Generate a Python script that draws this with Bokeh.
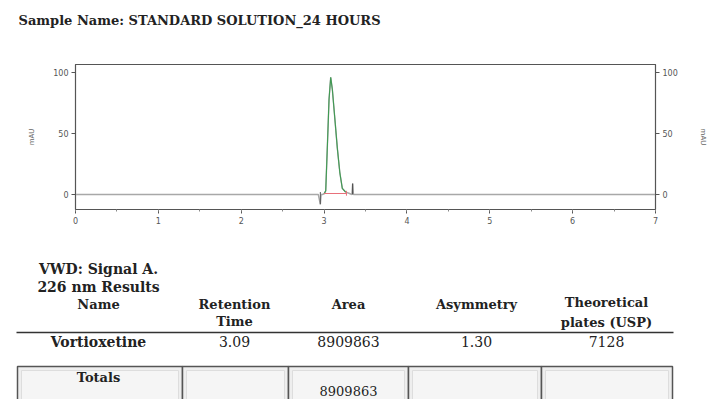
from bokeh.plotting import figure
from bokeh.layouts import column
from bokeh.models import Range1d, LinearAxis, FixedTicker
from bokeh.core.properties import value
from bokeh.embed import file_html
from bokeh.resources import INLINE

# ---------------- data ----------------
title_text = "Sample Name: STANDARD SOLUTION_24 HOURS"

trace_time = [0.0, 2.93, 2.955, 2.965, 2.98, 3.0, 3.02, 3.04, 3.06, 3.08, 3.10, 3.13, 3.16, 3.19,
              3.22, 3.26, 3.30, 3.335, 3.345, 3.355, 3.40, 7.0]
trace_mau = [0.0, 0.0, -8.0, 0.0, 0.0, 0.5, 3.0, 40.0, 78.0, 96.0, 86.0, 62.0, 38.0, 18.0,
             5.0, 2.0, 1.0, 0.0, 9.0, 0.0, 0.0, 0.0]
peak_start = 3.0
peak_end = 3.26
baseline_time = [3.0, 3.27]
baseline_mau = [0.8, 0.8]
x_ticks = [0, 1, 2, 3, 4, 5, 6, 7]
y_ticks = [0, 50, 100]

table_group = ["VWD: Signal A.", "226 nm Results"]
col_headers = [["Name"], ["Retention", "Time"], ["Area"], ["Asymmetry"], ["Theoretical", "plates (USP)"]]
row_values = ["Vortioxetine", "3.09", "8909863", "1.30", "7128"]
totals_values = ["Totals", "", "8909863", "", ""]

W = 709
SERIF = "DejaVu Serif"

# ---------------- header ----------------
head = figure(width=W, height=50, x_range=Range1d(0, W), y_range=Range1d(50, 0),
              x_axis_type=None, y_axis_type=None,
              output_backend="svg", toolbar_location=None, min_border=0)
head.frame_align = False
head.grid.visible = False
head.outline_line_color = None
head.text(x=[18], y=[20], text=[title_text], text_font=value(SERIF), text_font_style="bold",
          text_font_size="13px", text_color="#222222", text_baseline="middle", text_align="left")

# ---------------- chromatogram ----------------
p = figure(width=W, height=180, x_range=Range1d(0, 7), y_range=Range1d(-12.3, 106.5),
           output_backend="svg", toolbar_location=None,
           min_border_left=75, min_border_right=51, min_border_top=14, min_border_bottom=21,
           x_axis_location="below", y_axis_location="left")
p.frame_align = False
p.grid.visible = False
p.outline_line_color = "#555555"
p.outline_line_width = 1.2

p.line(trace_time, trace_mau, line_color="#a8a8a8", line_width=1.4)
pk_t = [t for t in trace_time if peak_start <= t <= peak_end]
pk_v = [v for t, v in zip(trace_time, trace_mau) if peak_start <= t <= peak_end]
p.line(pk_t, pk_v, line_color="#3f9a52", line_width=1.1)
p.line(baseline_time, baseline_mau, line_color="#e8707a", line_width=1.2)
p.segment(x0=[baseline_time[1]], y0=[-1], x1=[baseline_time[1]], y1=[3], line_color="#e8707a", line_width=1)
p.segment(x0=[trace_time[2]], y0=[-8], x1=[trace_time[2]], y1=[2], line_color="#555555", line_width=1)
p.segment(x0=[trace_time[18]], y0=[0], x1=[trace_time[18]], y1=[9], line_color="#444444", line_width=1)

p.xaxis.ticker = FixedTicker(ticks=x_ticks, minor_ticks=[i * 0.5 for i in range(15)])
p.yaxis.ticker = FixedTicker(ticks=y_ticks)
p.yaxis.axis_label = "mAU"

ra = LinearAxis(ticker=FixedTicker(ticks=y_ticks), axis_label="mAU")
p.add_layout(ra, "right")

for ax in [p.xaxis[0], p.yaxis[0], ra]:
    ax.axis_line_color = "#555555"
    ax.major_tick_line_color = "#555555"
    ax.minor_tick_line_color = "#888888"
    ax.major_tick_out = 4
    ax.major_tick_in = 0
    ax.minor_tick_out = 2
    ax.minor_tick_in = 0
    ax.major_label_text_font = "DejaVu Sans"
    ax.major_label_text_font_size = "8px"
    ax.major_label_text_color = "#555555"
    ax.major_label_standoff = 3
    ax.axis_label_text_font = "DejaVu Sans"
    ax.axis_label_text_font_size = "7px"
    ax.axis_label_text_font_style = "normal"
    ax.axis_label_text_color = "#666666"
p.yaxis[0].axis_label_standoff = 14
ra.axis_label_standoff = 18
ra.minor_tick_line_color = None
p.yaxis[0].minor_tick_line_color = None

# ---------------- table ----------------
t = figure(width=W, height=169, x_range=Range1d(0, W), y_range=Range1d(399, 230),
           x_axis_type=None, y_axis_type=None,
           output_backend="svg", toolbar_location=None, min_border=0)
t.frame_align = False
t.grid.visible = False
t.outline_line_color = None

col_edges = [17, 182, 288, 408, 541, 672]
col_centers = [98, 234, 348, 476, 606]

# totals box
t.quad(left=col_edges[:-1], right=col_edges[1:], top=[366] * 5, bottom=[402] * 5,
       fill_color="#eeeeee", line_color="#555555", line_width=1.5)
t.quad(left=[e + 4 for e in col_edges[:-1]], right=[e - 4 for e in col_edges[1:]],
       top=[370] * 5, bottom=[402] * 5, fill_color="#f5f5f5", line_color="#dddddd", line_width=1)
# header rule
t.segment(x0=[16], y0=[332], x1=[673], y1=[332], line_color="#333333", line_width=1.5)

txt = dict(text_font=value(SERIF), text_color="#222222", text_baseline="middle", text_align="center")
t.text(x=[col_centers[0]] * 2, y=[268, 286], text=table_group, text_font_style="bold",
       text_font_size="14px", **txt)
for c, hdr in zip(col_centers, col_headers):
    ys = [304, 321] if len(hdr) == 2 else [304]
    if hdr[0] == "Theoretical":
        ys = [302, 322]
    t.text(x=[c] * len(hdr), y=ys, text=hdr, text_font_style="bold", text_font_size="13px", **txt)

t.text(x=[col_centers[0]], y=[341], text=[row_values[0]], text_font_style="bold",
       text_font_size="14px", **txt)
t.text(x=col_centers[1:], y=[341] * 4, text=row_values[1:], text_font_style="normal",
       text_font_size="14px", **txt)
t.text(x=[col_centers[0]], y=[377], text=[totals_values[0]], text_font_style="bold",
       text_font_size="13px", **txt)
t.text(x=[col_centers[2]], y=[390], text=[totals_values[2]], text_font_style="normal",
       text_font_size="13px", **txt)

layout = column(head, p, t, spacing=0)
open("out.html", "w").write(file_html(layout, INLINE))
